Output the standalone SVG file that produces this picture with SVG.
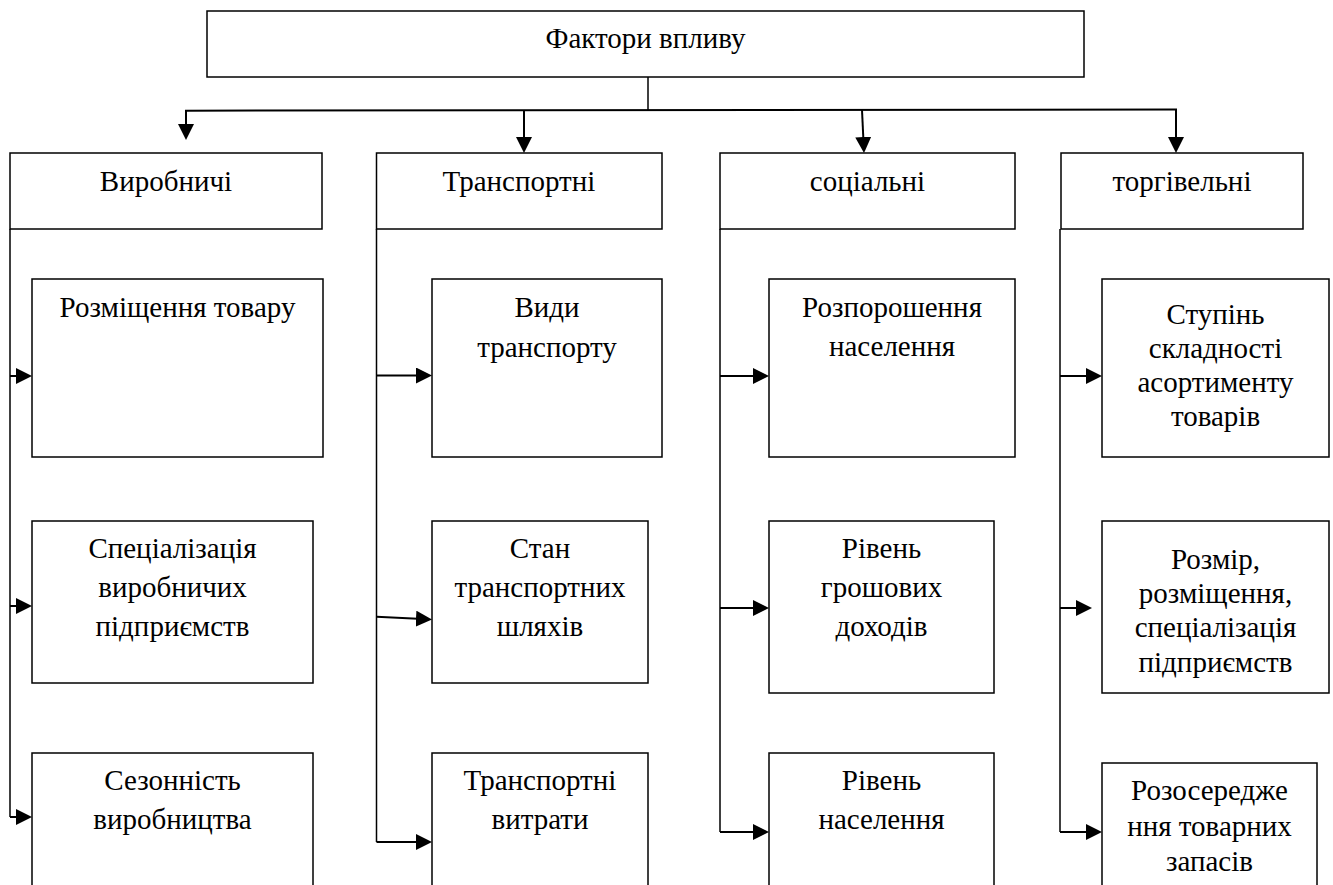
<svg xmlns="http://www.w3.org/2000/svg" width="1333" height="885" viewBox="0 0 1333 885">
  <defs>
    <marker id="arrow" viewBox="0 0 16 16" refX="7" refY="8" markerWidth="16" markerHeight="16" markerUnits="userSpaceOnUse" orient="auto">
      <path d="M0,0 L16,8 L0,16 Z" fill="#000"/>
    </marker>
    <style>
      .box { fill: #fff; stroke: #000; stroke-width: 1.5; }
      .lbl { font-family: 'Liberation Serif', 'DejaVu Serif', serif; font-size: 29px; fill: #000; text-anchor: middle; }
      .spine { fill: none; stroke: #000; stroke-width: 1.5; }
      .arr { fill: none; stroke: #000; stroke-width: 2; marker-end: url(#arrow); }
      .bus { fill: none; stroke: #000; stroke-width: 2; }
    </style>
  </defs>
  <rect width="1333" height="885" fill="#fff"/>

  <!-- connectors -->
  <g id="connectors">
    <!-- root to header row -->
    <line class="spine" x1="648" y1="77" x2="648" y2="110"/>
    <path class="bus" d="M185,110.7 L1177,109.5"/>
    <line class="arr" x1="186" y1="110.5" x2="186" y2="131"/>
    <line class="arr" x1="524" y1="110" x2="524" y2="144"/>
    <line class="arr" x1="862" y1="110" x2="863.6" y2="144"/>
    <line class="arr" x1="1176" y1="109.5" x2="1176" y2="144"/>

    <!-- column spines -->
    <line class="spine" x1="10" y1="229" x2="10" y2="817"/>
    <line class="spine" x1="376.5" y1="229" x2="376.5" y2="842"/>
    <line class="spine" x1="720" y1="229" x2="720" y2="832"/>
    <line class="spine" x1="1060" y1="229" x2="1060" y2="832"/>

    <!-- column 1 -->
    <line class="arr" x1="10" y1="376" x2="23" y2="376"/>
    <line class="arr" x1="10" y1="606" x2="23" y2="606"/>
    <line class="arr" x1="10" y1="817" x2="23" y2="817"/>

    <!-- column 2 -->
    <line class="arr" x1="376.5" y1="375.5" x2="423" y2="375.5"/>
    <line class="arr" x1="376.5" y1="616.7" x2="423" y2="619"/>
    <line class="arr" x1="376.5" y1="842" x2="423" y2="842"/>

    <!-- column 3 -->
    <line class="arr" x1="720" y1="376" x2="760" y2="376"/>
    <line class="arr" x1="720" y1="608" x2="760" y2="608"/>
    <line class="arr" x1="720" y1="832" x2="760" y2="832"/>

    <!-- column 4 -->
    <line class="arr" x1="1060" y1="376" x2="1093" y2="376"/>
    <line class="arr" x1="1060" y1="608" x2="1083" y2="608"/>
    <line class="arr" x1="1060" y1="832" x2="1093" y2="832"/>
  </g>

  <g font-family="Liberation Serif, DejaVu Serif, serif">
  <!-- root -->
  <g id="root">
    <rect class="box" x="207" y="11" width="877" height="66"/>
    <text class="lbl" x="645.5" y="48">Фактори впливу</text>
  </g>

  <!-- header row -->
  <g id="h-production">
    <rect class="box" x="10" y="153" width="312" height="76"/>
    <text class="lbl" x="166" y="191">Виробничі</text>
  </g>
  <g id="h-transport">
    <rect class="box" x="376.5" y="153" width="285.5" height="76"/>
    <text class="lbl" x="519" y="191">Транспортні</text>
  </g>
  <g id="h-social">
    <rect class="box" x="720" y="153" width="295" height="76"/>
    <text class="lbl" x="867.5" y="191">соціальні</text>
  </g>
  <g id="h-trade">
    <rect class="box" x="1061" y="153" width="242" height="76"/>
    <text class="lbl" x="1182" y="191">торгівельні</text>
  </g>

  <!-- column 1 -->
  <g id="c1-placement">
    <rect class="box" x="32" y="279" width="291" height="178"/>
    <text class="lbl" x="177.5" y="317">Розміщення товару</text>
  </g>
  <g id="c1-specialization">
    <rect class="box" x="32" y="521" width="281" height="162"/>
    <text class="lbl"><tspan x="172.5" y="558">Спеціалізація</tspan><tspan x="172.5" y="597">виробничих</tspan><tspan x="172.5" y="636">підприємств</tspan></text>
  </g>
  <g id="c1-seasonality">
    <rect class="box" x="32" y="753" width="281" height="200"/>
    <text class="lbl"><tspan x="172.5" y="790">Сезонність</tspan><tspan x="172.5" y="829">виробництва</tspan></text>
  </g>

  <!-- column 2 -->
  <g id="c2-kinds">
    <rect class="box" x="432" y="279" width="230" height="178"/>
    <text class="lbl"><tspan x="547" y="317">Види</tspan><tspan x="547" y="357">транспорту</tspan></text>
  </g>
  <g id="c2-roads">
    <rect class="box" x="432" y="521" width="216" height="162"/>
    <text class="lbl"><tspan x="540" y="558">Стан</tspan><tspan x="540" y="597">транспортних</tspan><tspan x="540" y="636">шляхів</tspan></text>
  </g>
  <g id="c2-costs">
    <rect class="box" x="432" y="753" width="216" height="200"/>
    <text class="lbl"><tspan x="540" y="790">Транспортні</tspan><tspan x="540" y="829">витрати</tspan></text>
  </g>

  <!-- column 3 -->
  <g id="c3-dispersion">
    <rect class="box" x="769" y="279" width="246" height="178"/>
    <text class="lbl"><tspan x="892" y="317">Розпорошення</tspan><tspan x="892" y="356">населення</tspan></text>
  </g>
  <g id="c3-income">
    <rect class="box" x="769" y="521" width="225" height="172"/>
    <text class="lbl"><tspan x="881.5" y="558">Рівень</tspan><tspan x="881.5" y="597">грошових</tspan><tspan x="881.5" y="636">доходів</tspan></text>
  </g>
  <g id="c3-population">
    <rect class="box" x="769" y="753" width="225" height="200"/>
    <text class="lbl"><tspan x="881.5" y="790">Рівень</tspan><tspan x="881.5" y="829">населення</tspan></text>
  </g>

  <!-- column 4 -->
  <g id="c4-assortment">
    <rect class="box" x="1102" y="279" width="227" height="178"/>
    <text class="lbl"><tspan x="1215.5" y="324">Ступінь</tspan><tspan x="1215.5" y="358">складності</tspan><tspan x="1215.5" y="392">асортименту</tspan><tspan x="1215.5" y="426">товарів</tspan></text>
  </g>
  <g id="c4-enterprises">
    <rect class="box" x="1102" y="521" width="227" height="172"/>
    <text class="lbl"><tspan x="1215.5" y="569">Розмір,</tspan><tspan x="1215.5" y="603">розміщення,</tspan><tspan x="1215.5" y="637">спеціалізація</tspan><tspan x="1215.5" y="672">підприємств</tspan></text>
  </g>
  <g id="c4-stocks">
    <rect class="box" x="1102" y="763" width="215" height="200"/>
    <text class="lbl"><tspan x="1209.5" y="800">Розосередже</tspan><tspan x="1209.5" y="836">ння товарних</tspan><tspan x="1209.5" y="871">запасів</tspan></text>
  </g>
  </g>
</svg>
